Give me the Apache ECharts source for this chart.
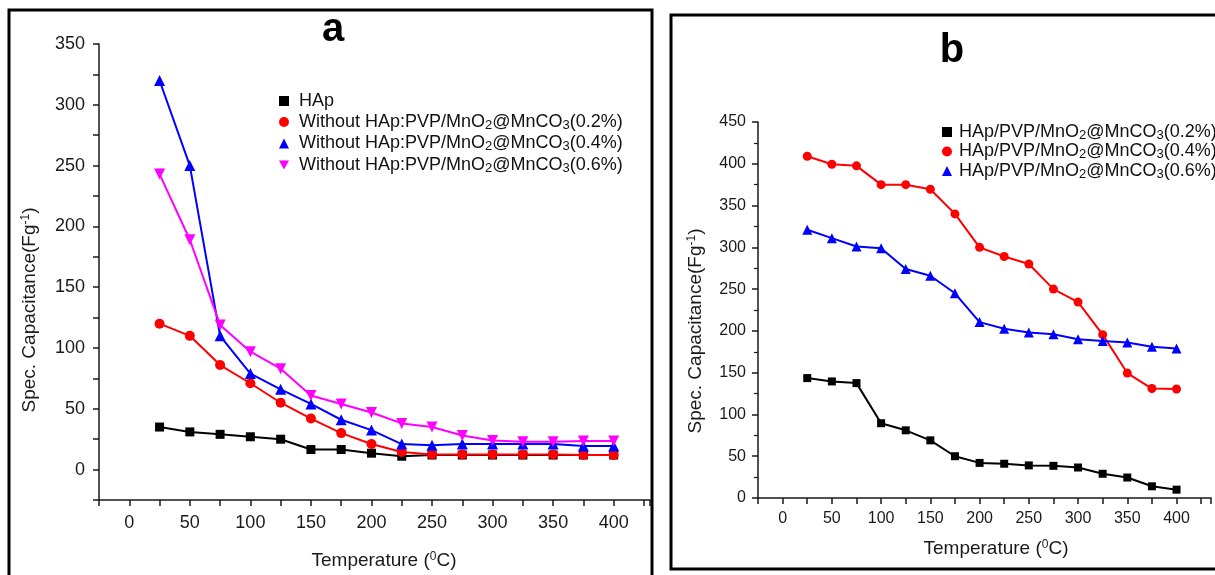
<!DOCTYPE html>
<html>
<head>
<meta charset="utf-8">
<script src="https://cdn.jsdelivr.net/npm/echarts@6/dist/echarts.min.js"></script>
<style>
html,body{margin:0;padding:0;background:#fff;}
#chart{width:1215px;height:575px;}
</style>
</head>
<body>
<div id="chart"></div>
<script>
// ---------- data ----------
const temps = [25, 50, 75, 100, 125, 150, 175, 200, 225, 250, 275, 300, 325, 350, 375, 400];

// Panel a
const namesA = [
  'HAp',
  'Without HAp:PVP/MnO{sub|2}@MnCO{sub|3}(0.2%)',
  'Without HAp:PVP/MnO{sub|2}@MnCO{sub|3}(0.4%)',
  'Without HAp:PVP/MnO{sub|2}@MnCO{sub|3}(0.6%)'
];
const aHAp = [35, 31, 29, 27, 25, 16.5, 16.5, 13.5, 11, 12, 12, 12, 12, 12, 12, 12];
const a02 = [120, 110, 86, 71, 55, 42, 30, 21, 14.5, 12.5, 12.5, 12.5, 12.5, 12.5, 12, 12];
const a04 = [320, 250, 110, 79, 66, 54, 41, 32.5, 21, 20, 21, 21, 21, 21, 19.5, 19.5];
const a06 = [243, 189, 119, 97, 83, 61, 54, 47, 38, 35, 28, 24, 23, 23, 23.5, 23.5];

// Panel b
const namesB = [
  'HAp/PVP/MnO{sub|2}@MnCO{sub|3}(0.2%)',
  'HAp/PVP/MnO{sub|2}@MnCO{sub|3}(0.4%)',
  'HAp/PVP/MnO{sub|2}@MnCO{sub|3}(0.6%)'
];
const b02 = [143.5, 139.5, 137.5, 89.5, 81, 69, 50, 42, 41, 39, 38.5, 36.5, 29, 24.5, 14, 10];
const b04 = [409, 399.5, 397.5, 375, 375, 369.5, 340, 300, 289, 280, 250, 234.5, 195.5, 149.5, 131, 130.5];
const b06 = [321, 311, 301, 299, 274, 266, 245, 210.5, 202.5, 198, 196, 190, 188, 186, 181, 179];

// ---------- helpers ----------
const FONT = 'Liberation Sans, Arial, sans-serif';
const pairs = v => temps.map((t, i) => [t, v[i]]);
const plain = s => s.replace(/\{sub\|(\w+)\}/g, '$1');
const richLeg = {sub: {fontSize: 13, fontFamily: FONT, color: '#111', padding: [6, 0, 0, 0]}};
const richSup = {sup: {fontSize: 12, fontFamily: FONT, fill: '#1a1a1a', color: '#1a1a1a', padding: [0, 0, 9, 0]}};
const invTri = 'path://M0,0L10,0L5,9Z';
const yTitle = 'Spec. Capacitance(Fg{sup|-1})';
const xTitle = 'Temperature ({sup|0}C)';

function xAxisCfg(grid, max, fs, margin) {
  return {
    type: 'value', gridIndex: grid, min: -25, max: max, interval: 25,
    axisLine: {show: true, onZero: false, lineStyle: {color: '#1a1a1a', width: 1.5}},
    axisTick: {show: true, inside: false, length: 6, lineStyle: {color: '#1a1a1a', width: 1.5}},
    axisLabel: {fontFamily: FONT, fontSize: fs, color: '#1a1a1a', margin: margin,
      showMinLabel: true, showMaxLabel: true,
      formatter: v => (v >= 0 && v % 50 === 0) ? String(v) : ''},
    splitLine: {show: false}
  };
}

const lineSeries = (name, xi, yi, data, color, symbol, size, rot) => ({
  name: plain(name), type: 'line', xAxisIndex: xi, yAxisIndex: yi,
  data: pairs(data), symbol: symbol, symbolSize: size, symbolRotate: rot || 0,
  showAllSymbol: true, animation: false,
  lineStyle: {color: color, width: 2}, itemStyle: {color: color}
});

const textEl = (txt, x, y, size, rot) => ({
  type: 'text', x: x, y: y, rotation: rot || 0, silent: true,
  style: {text: txt, x: 0, y: 0, align: 'center', verticalAlign: 'middle',
    textAlign: 'center', textVerticalAlign: 'middle',
    font: size + 'px ' + FONT, fill: '#1a1a1a', rich: richSup}
});

const chart = echarts.init(document.getElementById('chart'));
chart.setOption({
  backgroundColor: '#fff',
  animation: false,
  grid: [
    {left: 99, top: 44, width: 551, height: 456},
    {left: 758, top: 122, width: 453, height: 376}
  ],
  xAxis: [
    xAxisCfg(0, 430, 18, 14),
    xAxisCfg(1, 435, 16, 13)
  ],
  yAxis: [
    {
      type: 'value', gridIndex: 0, min: -25, max: 350, interval: 25,
      axisLine: {show: true, onZero: false, lineStyle: {color: '#1a1a1a', width: 1.5}},
      axisTick: {show: true, inside: false, length: 6, lineStyle: {color: '#1a1a1a', width: 1.5}},
      axisLabel: {fontFamily: FONT, fontSize: 18, color: '#1a1a1a', margin: 14,
        formatter: v => (v >= 0 && v % 50 === 0) ? String(v) : ''},
      splitLine: {show: false}
    },
    {
      type: 'value', gridIndex: 1, min: 0, max: 450, interval: 50,
      axisLine: {show: true, onZero: false, lineStyle: {color: '#1a1a1a', width: 1.5}},
      axisTick: {show: true, inside: false, length: 6, lineStyle: {color: '#1a1a1a', width: 1.5}},
      minorTick: {show: true, splitNumber: 2, length: 4, lineStyle: {color: '#1a1a1a', width: 1.2}},
      axisLabel: {fontFamily: FONT, fontSize: 16, color: '#1a1a1a', margin: 12},
      splitLine: {show: false}
    }
  ],
  legend: [
    {
      orient: 'vertical', left: 274, top: 87, itemWidth: 10, itemHeight: 10, itemGap: 3,
      textStyle: {fontFamily: FONT, fontSize: 18, color: '#111', rich: richLeg, lineHeight: 18, padding: [0, 0, 0, 5]},
      formatter: n => namesA.find(x => plain(x) === n),
      data: [
        {name: plain(namesA[0]), icon: 'rect', itemStyle: {color: '#000'}},
        {name: plain(namesA[1]), icon: 'circle', itemStyle: {color: '#ff0000'}},
        {name: plain(namesA[2]), icon: 'triangle', itemStyle: {color: '#0000ff'}},
        {name: plain(namesA[3]), icon: invTri, itemStyle: {color: '#ff00ff'}}
      ]
    },
    {
      orient: 'vertical', left: 937, top: 118, itemWidth: 10, itemHeight: 10, itemGap: 1,
      textStyle: {fontFamily: FONT, fontSize: 18, color: '#111', rich: richLeg, lineHeight: 17, padding: [0, 0, 0, 2]},
      formatter: n => namesB.find(x => plain(x) === n),
      data: [
        {name: plain(namesB[0]), icon: 'rect', itemStyle: {color: '#000'}},
        {name: plain(namesB[1]), icon: 'circle', itemStyle: {color: '#ff0000'}},
        {name: plain(namesB[2]), icon: 'triangle', itemStyle: {color: '#0000ff'}}
      ]
    }
  ],
  graphic: [
    {type: 'rect', shape: {x: 9, y: 10, width: 643, height: 620}, style: {fill: 'none', stroke: '#000', lineWidth: 3}, silent: true},
    {type: 'rect', shape: {x: 671, y: 15, width: 620, height: 554}, style: {fill: 'none', stroke: '#000', lineWidth: 3}, silent: true},
    {type: 'text', silent: true, style: {text: 'a', x: 333, y: 30, textAlign: 'center', textVerticalAlign: 'middle', font: 'bold 40px ' + FONT, fill: '#000'}},
    {type: 'text', silent: true, style: {text: 'b', x: 952, y: 51, textAlign: 'center', textVerticalAlign: 'middle', font: 'bold 40px ' + FONT, fill: '#000'}},
    textEl(yTitle, 30, 310, 19, Math.PI / 2),
    textEl(xTitle, 384, 561, 19, 0),
    textEl(yTitle, 696, 331, 19, Math.PI / 2),
    textEl(xTitle, 996, 549, 19, 0)
  ],
  series: [
    lineSeries(namesA[0], 0, 0, aHAp, '#000000', 'rect', 9),
    lineSeries(namesA[1], 0, 0, a02, '#ff0000', 'circle', 10),
    lineSeries(namesA[2], 0, 0, a04, '#0000ff', 'triangle', 11),
    lineSeries(namesA[3], 0, 0, a06, '#ff00ff', 'triangle', 11, 180),
    lineSeries(namesB[0], 1, 1, b02, '#000000', 'rect', 8),
    lineSeries(namesB[1], 1, 1, b04, '#ff0000', 'circle', 9),
    lineSeries(namesB[2], 1, 1, b06, '#0000ff', 'triangle', 10)
  ]
});
</script>
</body>
</html>
